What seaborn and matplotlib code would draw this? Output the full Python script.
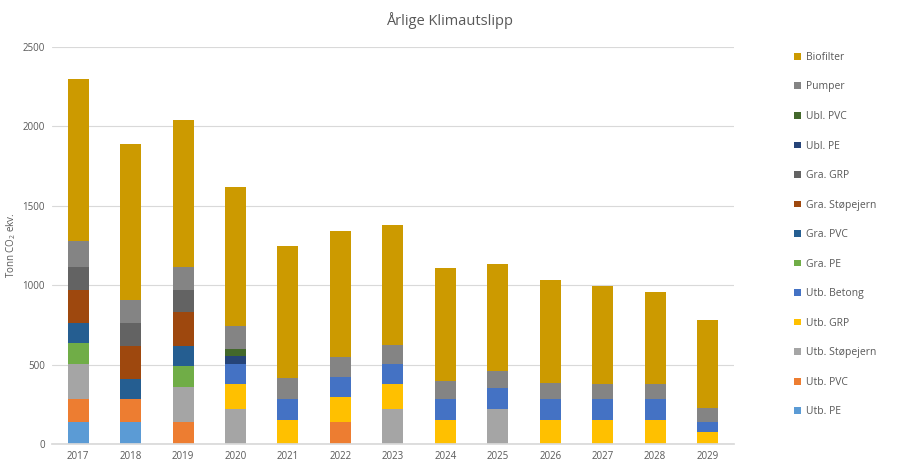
import pandas as pd
import matplotlib
matplotlib.use("Agg")
import matplotlib.pyplot as plt
import seaborn as sns

years = [2017, 2018, 2019, 2020, 2021, 2022, 2023, 2024, 2025, 2026, 2027, 2028, 2029]

utb_pe        = [142, 142,   0,   0,   0,   0,   0,   0,   0,   0,   0,   0,   0]
utb_pvc       = [142, 142, 142,   0,   0, 140,   0,   0,   0,   0,   0,   0,   0]
utb_stopejern = [220,   0, 218, 222,   0,   0, 222,   0, 222,   0,   0,   0,   0]
utb_grp       = [  0,   0,   0, 159, 153, 157, 157, 153,   0, 153, 153, 153,  77]
utb_betong    = [  0,   0,   0, 125, 133, 126, 125, 132, 134, 132, 132, 132,  63]
gra_pe        = [134,   0, 134,   0,   0,   0,   0,   0,   0,   0,   0,   0,   0]
gra_pvc       = [122, 126, 125,   0,   0,   0,   0,   0,   0,   0,   0,   0,   0]
gra_stopejern = [209, 209, 210,   0,   0,   0,   0,   0,   0,   0,   0,   0,   0]
gra_grp       = [144, 143, 140,   0,   0,   0,   0,   0,   0,   0,   0,   0,   0]
ubl_pe        = [  0,   0,   0,  49,   0,   0,   0,   0,   0,   0,   0,   0,   0]
ubl_pvc       = [  0,   0,   0,  45,   0,   0,   0,   0,   0,   0,   0,   0,   0]
pumper        = [164, 148, 144, 143, 130, 125, 120, 111, 104, 100,  93,  93,  88]
biofilter     = [1017, 976, 924, 873, 829, 792, 754, 712, 673, 647, 617, 579, 553]

# top of the stack first (same order as the legend)
series = {
    "Biofilter": biofilter,
    "Pumper": pumper,
    "Ubl. PVC": ubl_pvc,
    "Ubl. PE": ubl_pe,
    "Gra. GRP": gra_grp,
    "Gra. Støpejern": gra_stopejern,
    "Gra. PVC": gra_pvc,
    "Gra. PE": gra_pe,
    "Utb. Betong": utb_betong,
    "Utb. GRP": utb_grp,
    "Utb. Støpejern": utb_stopejern,
    "Utb. PVC": utb_pvc,
    "Utb. PE": utb_pe,
}
colors = {
    "Biofilter": "#CC9A00",
    "Pumper": "#848484",
    "Ubl. PVC": "#43682B",
    "Ubl. PE": "#264478",
    "Gra. GRP": "#636363",
    "Gra. Støpejern": "#9E480E",
    "Gra. PVC": "#255E91",
    "Gra. PE": "#70AD47",
    "Utb. Betong": "#4472C4",
    "Utb. GRP": "#FFC000",
    "Utb. Støpejern": "#A5A5A5",
    "Utb. PVC": "#ED7D31",
    "Utb. PE": "#5B9BD5",
}

rows = []
for name, vals in series.items():
    for y, v in zip(years, vals):
        rows.append({"year": y, "kilde": name, "tonn": v})
df = pd.DataFrame(rows)

sns.set_theme(style="white")
plt.rcParams["font.family"] = ["Open Sans", "DejaVu Sans"]
plt.rcParams["mathtext.default"] = "regular"

fig = plt.figure(figsize=(9.23, 4.68), dpi=100)
ax = fig.add_axes([0.0563, 0.0506, 0.7387, 0.85])

sns.histplot(data=df, x="year", weights="tonn", hue="kilde",
             hue_order=list(series.keys()), palette=colors,
             multiple="stack", discrete=True, shrink=0.4,
             linewidth=0, alpha=1, ax=ax, legend=True)

ax.set_xlim(years[0] - 0.5, years[-1] + 0.5)
ax.set_ylim(0, 2500)
ax.set_yticks(range(0, 2501, 500))
ax.set_xticks(years)
ax.set_xticklabels([str(y) for y in years])
ax.yaxis.grid(True, color="#D9D9D9", linewidth=0.8)
ax.set_axisbelow(True)
for s in ["top", "right", "left"]:
    ax.spines[s].set_visible(False)
ax.spines["bottom"].set_color("#D9D9D9")
ax.tick_params(axis="both", length=0, labelsize=7, colors="#595959", pad=5)
ax.set_xlabel("")
ax.set_ylabel("Tonn CO$_2$ ekv.", fontsize=7, color="#595959", labelpad=3)

fig.suptitle("Årlige Klimautslipp", x=0.487, y=0.975, fontsize=10.5, color="#595959")

sns.move_legend(ax, "upper left", bbox_to_anchor=(1.075, 1.01), frameon=False,
                title=None, fontsize=7.5, labelspacing=1.78, handlelength=0.6,
                handleheight=0.6, handletextpad=0.5, labelcolor="#595959")

fig.savefig("out.png", dpi=100)
